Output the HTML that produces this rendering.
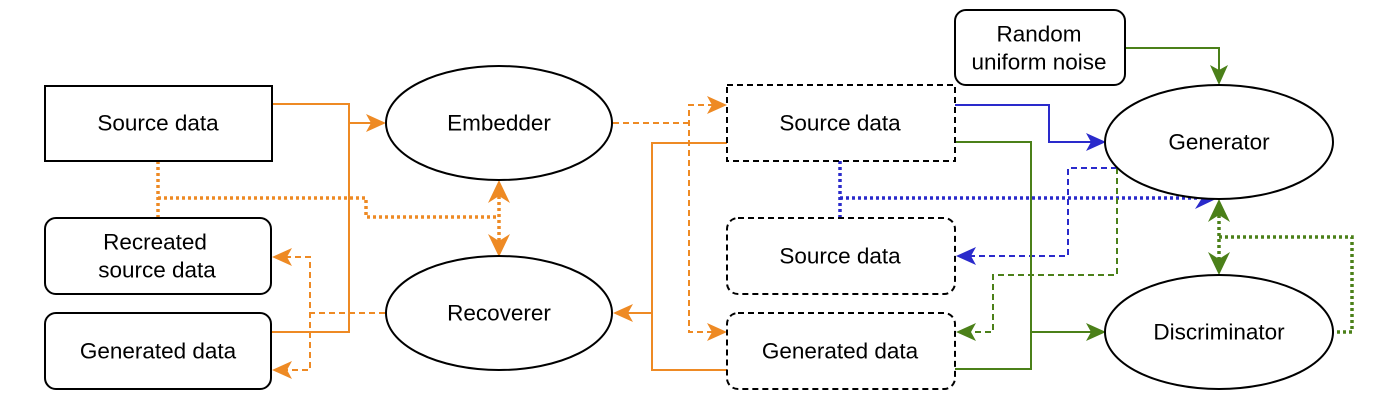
<!DOCTYPE html>
<html><head><meta charset="utf-8"><style>
html,body{margin:0;padding:0;background:#fff;}
svg{display:block;}
text{font-family:"Liberation Sans",Arial,sans-serif;font-size:22.5px;fill:#000;text-anchor:middle;dominant-baseline:central;}
</style></head><body>
<svg width="1387" height="411" viewBox="0 0 1387 411" xmlns="http://www.w3.org/2000/svg">
<g fill="none" stroke-width="2">
<!-- orange solid -->
<polyline points="272,104 349,104 349,332 271,332" stroke="#ee8a24"/>
<line x1="349" y1="123" x2="372" y2="123" stroke="#ee8a24"/>
<polygon points="386,123 366,114 371,123 366,132" fill="#ee8a24" stroke="none"/>
<polyline points="727,143 652,143 652,370 727,370" stroke="#ee8a24"/>
<line x1="652" y1="313" x2="626" y2="313" stroke="#ee8a24"/>
<polygon points="613,313 633,304 628,313 633,322" fill="#ee8a24" stroke="none"/>
<!-- orange dashed -->
<g stroke="#ee8a24" stroke-dasharray="6,4">
<polyline points="385,313 310,313"/>
<polyline points="285,257 310,257 310,370 285,370"/>
<polyline points="613,123 689,123"/>
<polyline points="714,105 689,105 689,332 714,332"/>
</g>
<polygon points="272,257 292,248 287,257 292,266" fill="#ee8a24" stroke="none"/>
<polygon points="272,370 292,361 287,370 292,379" fill="#ee8a24" stroke="none"/>
<polygon points="727,105 707,96 712,105 707,114" fill="#ee8a24" stroke="none"/>
<polygon points="727,332 707,323 712,332 707,341" fill="#ee8a24" stroke="none"/>
<!-- orange dotted -->
<g stroke="#ee8a24" stroke-width="3.5" stroke-dasharray="3,3">
<polyline points="158,161 158,218"/>
<polyline points="158,198 366,198 366,217 499,217"/>
<polyline points="499,196 499,242"/>
</g>
<polygon points="499,180 488,203 499,196 510,203" fill="#ee8a24" stroke="none"/>
<polygon points="499,257 488,234 499,241 510,234" fill="#ee8a24" stroke="none"/>
<!-- blue -->
<polyline points="955,105 1049,105 1049,142 1092,142" stroke="#2a2acb"/>
<polygon points="1106,142 1086,133 1091,142 1086,151" fill="#2a2acb" stroke="none"/>
<g stroke="#2a2acb" stroke-width="3.5" stroke-dasharray="3,3">
<polyline points="840,161 840,218"/>
<polyline points="840,198 1200,198"/>
</g>
<polygon points="1218,198 1195,187 1202,198 1195,209" fill="#2a2acb" stroke="none"/>
<polyline points="1117,168 1068,168 1068,256 969,256" stroke="#2a2acb" stroke-dasharray="6,4"/>
<polygon points="956,256 976,247 971,256 976,265" fill="#2a2acb" stroke="none"/>
<!-- green -->
<g stroke="#4b8019">
<polyline points="1125,48 1219,48 1219,71"/>
<polyline points="955,142 1031,142 1031,369 955,369"/>
<line x1="1031" y1="332" x2="1092" y2="332"/>
<polyline points="1117,168 1117,275 993,275 993,332 969,332" stroke-dasharray="6,4"/>
</g>
<polygon points="1219,85 1210,65 1219,70 1228,65" fill="#4b8019" stroke="none"/>
<polygon points="1106,332 1086,323 1091,332 1086,341" fill="#4b8019" stroke="none"/>
<polygon points="956,332 976,323 971,332 976,341" fill="#4b8019" stroke="none"/>
<g stroke="#4b8019" stroke-width="3.5" stroke-dasharray="3,3">
<polyline points="1219,215 1219,260"/>
<polyline points="1219,237 1352,237 1352,332 1333,332"/>
</g>
<polygon points="1219,199 1208,222 1219,215 1230,222" fill="#4b8019" stroke="none"/>
<polygon points="1219,275 1208,252 1219,259 1230,252" fill="#4b8019" stroke="none"/>
<!-- shapes -->
<g stroke="#000" fill="#fff">
<rect x="45" y="86" width="227" height="75"/>
<rect x="45" y="218" width="226" height="76" rx="11"/>
<rect x="45" y="313" width="226" height="76" rx="11"/>
<rect x="955" y="10" width="170" height="75" rx="11"/>
<ellipse cx="499" cy="123" rx="113" ry="57"/>
<ellipse cx="499" cy="313" rx="113" ry="57"/>
<ellipse cx="1219" cy="142" rx="114" ry="57"/>
<ellipse cx="1219" cy="332" rx="114" ry="57"/>
</g>
<g stroke="#000" fill="none" stroke-dasharray="6,4">
<rect x="727" y="85" width="228" height="76"/>
<rect x="727" y="218" width="228" height="76" rx="11"/>
<rect x="727" y="313" width="228" height="76" rx="11"/>
</g>
</g>
<text x="158" y="123">Source data</text>
<text x="155" y="242">Recreated</text>
<text x="157" y="270">source data</text>
<text x="158" y="351">Generated data</text>
<text x="499" y="123">Embedder</text>
<text x="499" y="313">Recoverer</text>
<text x="840" y="123">Source data</text>
<text x="840" y="256">Source data</text>
<text x="840" y="351">Generated data</text>
<text x="1039" y="34">Random</text>
<text x="1039" y="62">uniform noise</text>
<text x="1219" y="142">Generator</text>
<text x="1219" y="332">Discriminator</text>
</svg>
</body></html>
